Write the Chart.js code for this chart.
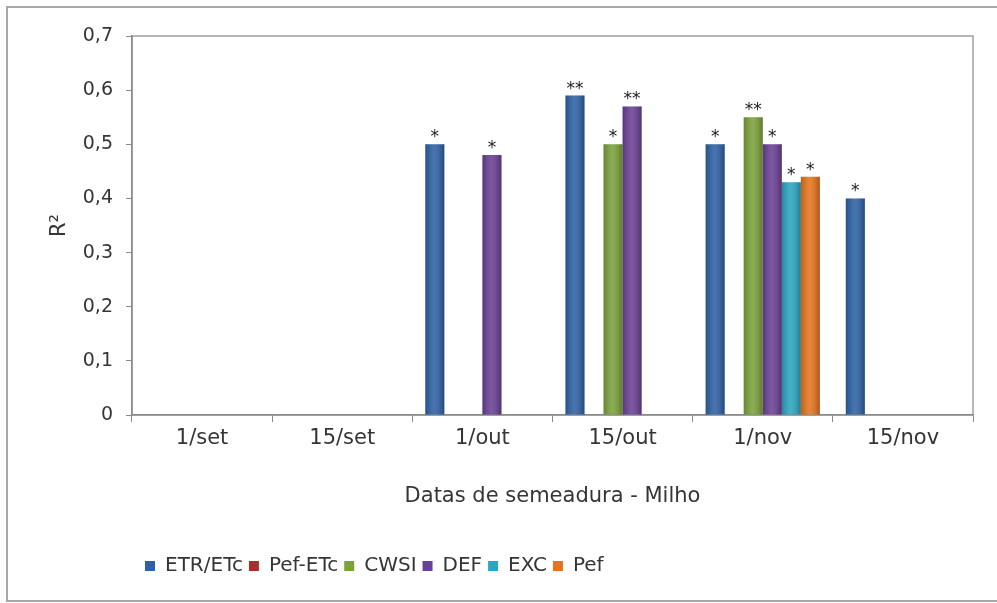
<!DOCTYPE html>
<html>
<head>
<meta charset="utf-8">
<script src="https://cdn.jsdelivr.net/npm/chart.js@4/dist/chart.umd.min.js"></script>
<style>
  body { margin: 0; background: #fff; }
  #wrap { width: 997px; height: 603px; }
</style>
</head>
<body>
<div id="wrap"><canvas id="milhoChart" width="997" height="603"></canvas></div>
<script>
// datas de semeadura
const categories = ['1/set', '15/set', '1/out', '15/out', '1/nov', '15/nov'];

// R2 por variavel
const etrEtc = [null, null, 0.50, 0.59, 0.50, 0.40];
const pefEtc = [null, null, null, null, null, null];
const cwsi   = [null, null, null, 0.50, 0.55, null];
const def    = [null, null, 0.48, 0.57, 0.50, null];
const exc    = [null, null, null, null, 0.43, null];
const pef    = [null, null, null, null, 0.44, null];

// significancia (* / **)
const etrEtcSig = ['', '', '*', '**', '*', '*'];
const pefEtcSig = ['', '', '', '', '', ''];
const cwsiSig   = ['', '', '', '*', '**', ''];
const defSig    = ['', '', '*', '**', '*', ''];
const excSig    = ['', '', '', '', '*', ''];
const pefSig    = ['', '', '', '', '*', ''];

const yTicks = [0, 0.1, 0.2, 0.3, 0.4, 0.5, 0.6, 0.7];

const FONT = "'DejaVu Sans', 'Liberation Sans', Arial, sans-serif";
const TXT = '#353535';

// moldura externa do grafico
const frame = {
  id: 'frame',
  beforeDraw(chart) {
    const ctx = chart.ctx;
    ctx.save();
    ctx.fillStyle = '#fff';
    ctx.fillRect(0, 0, chart.width, chart.height);
    ctx.strokeStyle = '#a8a8a8';
    ctx.lineWidth = 2;
    ctx.beginPath();
    ctx.moveTo(chart.width, 7); ctx.lineTo(7, 7); ctx.lineTo(7, 601); ctx.lineTo(chart.width, 601);
    ctx.stroke();
    const a = chart.chartArea;
    ctx.strokeStyle = '#a0a0a0';
    ctx.lineWidth = 1.5;
    ctx.strokeRect(a.left, a.top, a.right - a.left, a.bottom - a.top);
    ctx.restore();
  },
  afterLayout(chart) {
    // legenda deslocada para a esquerda como no original
    chart.legend.left = 139;
  }
};

// brilho das barras + asteriscos
const barDeco = {
  id: 'barDeco',
  afterDatasetsDraw(chart) {
    const ctx = chart.ctx;
    ctx.save();
    chart.data.datasets.forEach((ds, di) => {
      const meta = chart.getDatasetMeta(di);
      meta.data.forEach((bar, i) => {
        if (ds.data[i] == null) return;
        const l = bar.x - bar.width / 2, r = bar.x + bar.width / 2;
        const g = ctx.createLinearGradient(l, 0, r, 0);
        g.addColorStop(0, 'rgba(0,0,0,0.18)');
        g.addColorStop(0.45, 'rgba(255,255,255,0.12)');
        g.addColorStop(1, 'rgba(0,0,0,0.25)');
        ctx.fillStyle = g;
        ctx.fillRect(l, bar.y, bar.width, bar.base - bar.y);
        const s = ds.sig[i];
        if (s) {
          ctx.fillStyle = '#222';
          ctx.font = '17px ' + FONT;
          ctx.textAlign = 'center';
          ctx.textBaseline = 'alphabetic';
          ctx.fillText(s, bar.x, bar.y - 2);
        }
      });
    });
    ctx.restore();
  }
};

function mk(label, data, sig, color) {
  return { label, data, sig, backgroundColor: color, borderWidth: 0 };
}

new Chart(document.getElementById('milhoChart'), {
  type: 'bar',
  data: {
    labels: categories,
    datasets: [
      mk('ETR/ETc', etrEtc, etrEtcSig, '#2d61a6'),
      mk('Pef-ETc', pefEtc, pefEtcSig, '#a5302f'),
      mk('CWSI', cwsi, cwsiSig, '#7ba23a'),
      mk('DEF', def, defSig, '#6a3f96'),
      mk('EXC', exc, excSig, '#2ba6c2'),
      mk('Pef', pef, pefSig, '#e6741d')
    ]
  },
  options: {
    responsive: false,
    animation: false,
    categoryPercentage: 0.815,
    barPercentage: 1.0,
    layout: { padding: { left: 30, right: 24, top: 36, bottom: 17 } },
    plugins: {
      legend: {
        position: 'bottom',
        align: 'start',
        labels: {
          boxWidth: 10,
          boxHeight: 10,
          padding: 6,
          color: TXT,
          font: { family: FONT, size: 20 }
        }
      },
      tooltip: { enabled: false }
    },
    scales: {
      x: {
        grid: { drawOnChartArea: false, drawTicks: true, tickLength: 7, color: '#8a8a8a' },
        border: { display: true, color: '#8a8a8a', width: 1.5 },
        ticks: { color: TXT, padding: 4, font: { family: FONT, size: 21 } },
        title: {
          display: true,
          text: 'Datas de semeadura - Milho',
          color: TXT,
          font: { family: FONT, size: 21 },
          padding: { top: 0, bottom: 41 }
        },
        afterFit(scale) { scale.height = 135; }
      },
      y: {
        min: 0,
        max: 0.7,
        grid: { drawOnChartArea: false, drawTicks: true, tickLength: 6, color: '#8a8a8a' },
        border: { display: true, color: '#8a8a8a', width: 1.5 },
        afterBuildTicks(scale) { scale.ticks = yTicks.map(v => ({ value: v })); },
        ticks: {
          color: TXT,
          padding: 13,
          font: { family: FONT, size: 19 },
          callback: v => v === 0 ? '0' : v.toFixed(1).replace('.', ',')
        },
        title: {
          display: true,
          text: 'R²',
          color: TXT,
          font: { family: FONT, size: 21 },
          padding: { top: 17, bottom: 0 }
        },
        afterFit(scale) { scale.width = 102; }
      }
    }
  },
  plugins: [frame, barDeco]
});
</script>
</body>
</html>
